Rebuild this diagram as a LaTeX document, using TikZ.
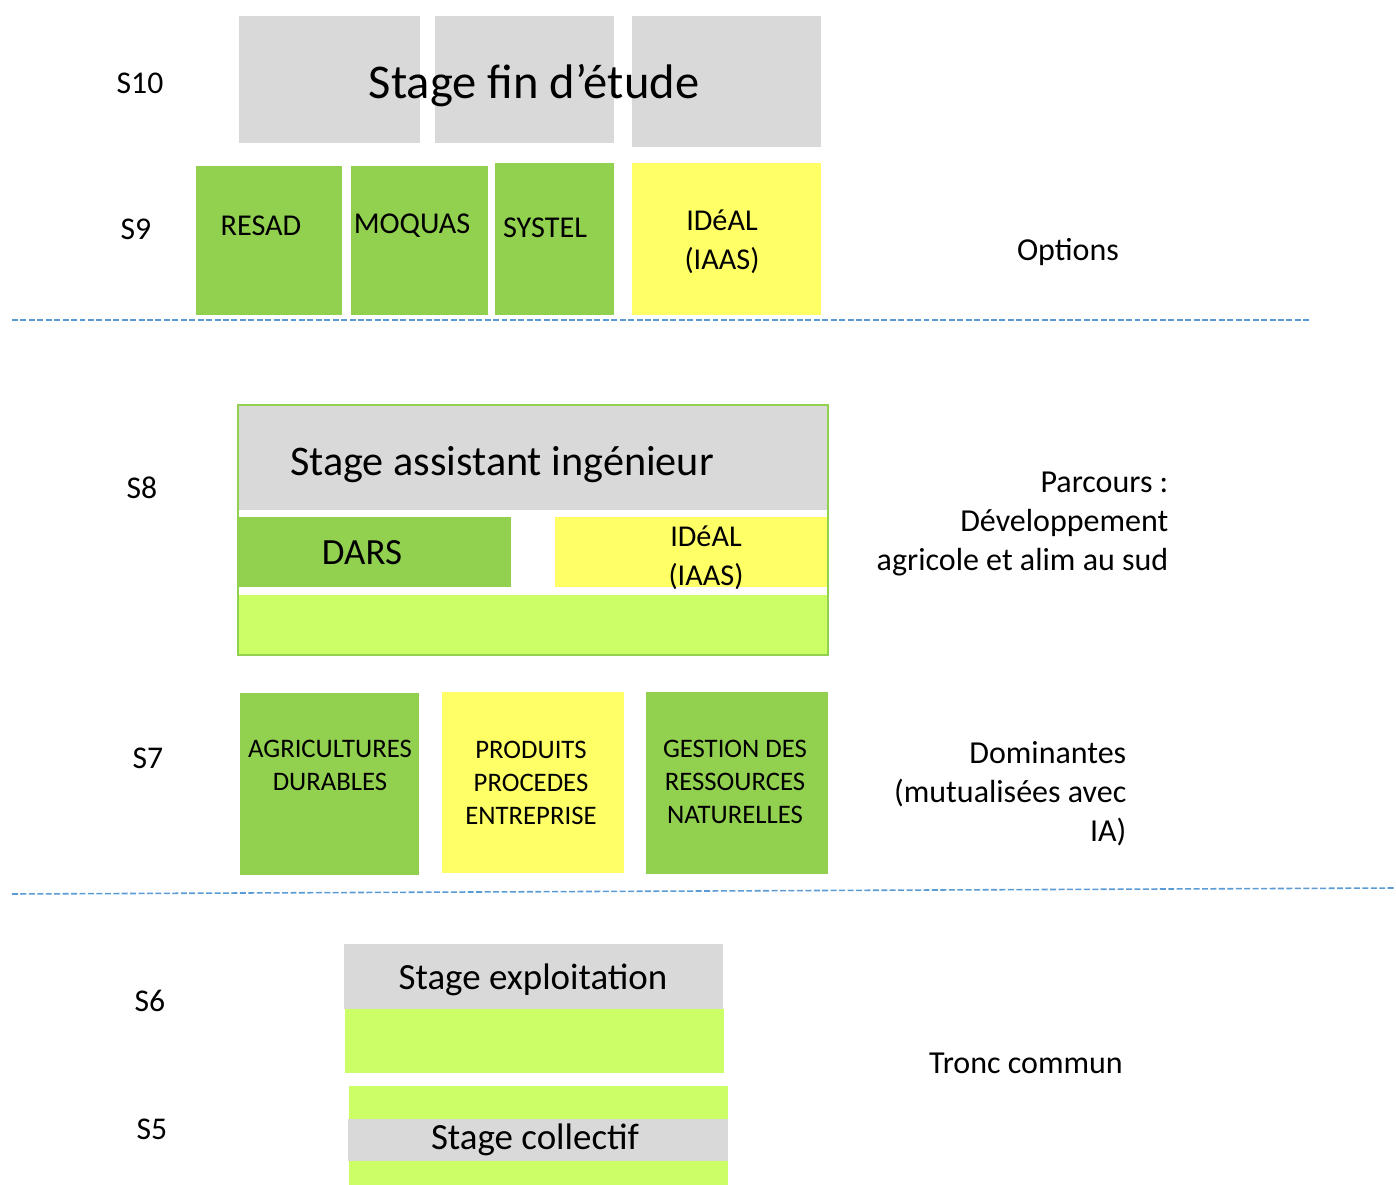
\documentclass[tikz,border=0pt]{standalone}
\usepackage{fontspec}
\setmainfont{Carlito}
\usepackage{tikz}
\usepackage{xcolor}
\usetikzlibrary{positioning}

\definecolor{boxgray}{HTML}{D9D9D9}
\definecolor{boxgreen}{HTML}{92D050}
\definecolor{boxyellow}{HTML}{FFFF66}
\definecolor{boxlime}{HTML}{CCFF66}
\definecolor{sepblue}{HTML}{5B9BD5}

\tikzset{
  sem/.style={font=\fontsize{9}{11}\selectfont},
  side/.style={font=\fontsize{9.1}{11.1}\selectfont, align=right, anchor=east},
  opt/.style={font=\fontsize{8.6}{11}\selectfont, align=center},
  dom/.style={font=\fontsize{7.6}{9.4}\selectfont, align=center},
  big/.style={font=\fontsize{13.8}{16}\selectfont},
  mid/.style={font=\fontsize{12}{14}\selectfont},
  small/.style={font=\fontsize{10.5}{12}\selectfont},
  sep/.style={sepblue, line width=0.45pt, dash pattern=on 1.7pt off 0.7pt}
}

\begin{document}
\begin{tikzpicture}[x=0.01cm, y=-0.01cm, inner sep=0pt]
  \useasboundingbox (0,0) rectangle (1396,1185);
  % semester labels
  \node[sem] (s10) at (140,83) {S10};
  \node[sem] (s9) at (136,229) {S9};
  \node[sem] (s8) at (142,488) {S8};
  \node[sem] (s7) at (148,758) {S7};
  \node[sem] (s6) at (150,1001) {S6};
  \node[sem] (s5) at (152,1129) {S5};
  % S10 : end of study internship
  \fill[boxgray] (239,16) rectangle (420,143);
  \fill[boxgray] (435,16) rectangle (614,143);
  \fill[boxgray] (632,16) rectangle (821,147);
  \node[big] (pfe) at (534,86) {Stage fin d’étude};
  % S9 : options
  \fill[boxgreen] (196,166) rectangle (342,315);
  \fill[boxgreen] (351,166) rectangle (488,315);
  \fill[boxgreen] (495,163) rectangle (614,315);
  \fill[boxyellow] (632,163) rectangle (821,315);
  \node[opt] (resad) at (261,226) {RESAD};
  \node[opt] (moquas) at (412,226) {MOQUAS};
  \node[opt] (systel) at (545,228) {SYSTEL};
  \node[opt] (ideal9) at (722,242) {IDéAL\\(IAAS)};
  \node[side, anchor=center] (options) at (1068,252) {Options};
  % separator
  \coordinate (l1a) at (12,320);
  \coordinate (l1b) at (1310,320);
  \draw[sep] (l1a) -- (l1b);
  % S8 : parcours
  \fill[boxgray] (239,406) rectangle (827,510);
  \fill[boxgreen] (239,517) rectangle (511,587);
  \fill[boxyellow] (555,517) rectangle (827,587);
  \fill[boxlime] (239,595) rectangle (827,654);
  \draw[boxgreen, line width=0.6pt] (238,405) rectangle (828,655);
  \node[mid] (sai) at (502,465) {Stage assistant ingénieur};
  \node[small] (dars) at (362,553) {DARS};
  \node[opt] (ideal8) at (706,558) {IDéAL\\(IAAS)};
  \node[side] (parcours) at (1169,524) {Parcours :\\Développement\\agricole et alim au sud};
  % S7 : dominantes
  \fill[boxgreen] (240,693) rectangle (419,875);
  \fill[boxyellow] (442,692) rectangle (624,873);
  \fill[boxgreen] (646,692) rectangle (828,874);
  \node[dom] (agri) at (330,765) {AGRICULTURES\\DURABLES};
  \node[dom] (ppe) at (531,783) {PRODUITS\\PROCEDES\\ENTREPRISE};
  \node[dom] (grn) at (735,782) {GESTION DES\\RESSOURCES\\NATURELLES};
  \node[side] (domin) at (1127,794) {Dominantes\\(mutualisées avec\\IA)};
  % separator
  \coordinate (l2a) at (12,894);
  \coordinate (l2b) at (1396,888);
  \draw[sep] (l2a) -- (l2b);
  % S6 and S5 : tronc commun
  \fill[boxgray] (344,944) rectangle (723,1009);
  \fill[boxlime] (345,1009) rectangle (724,1073);
  \node[small] (sexp) at (533,980) {Stage exploitation};
  \fill[boxlime] (349,1086) rectangle (728,1185);
  \fill[boxgray] (348,1119) rectangle (728,1161);
  \node[small] (scol) at (535,1140) {Stage collectif};
  \node[side, anchor=center] (tronc) at (1026,1063) {Tronc commun};
\end{tikzpicture}
\end{document}
